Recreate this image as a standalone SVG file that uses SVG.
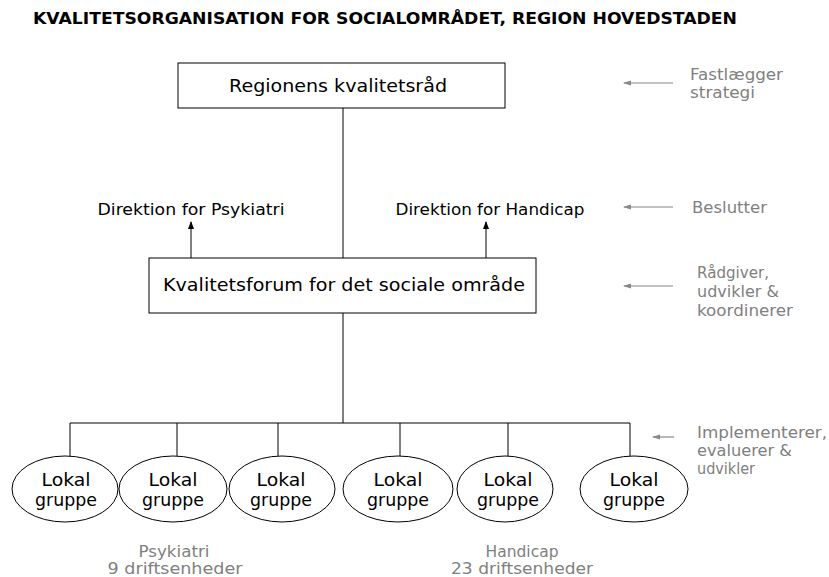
<svg xmlns="http://www.w3.org/2000/svg" width="829" height="577" viewBox="0 0 829 577">
<defs>
<marker id="ah" markerWidth="8" markerHeight="8" refX="7" refY="4" orient="auto" markerUnits="userSpaceOnUse"><path d="M0,1 L8,4 L0,7 Z" fill="#000"/></marker>
<marker id="ag" markerWidth="8" markerHeight="8" refX="7" refY="4" orient="auto" markerUnits="userSpaceOnUse"><path d="M0,1.5 L8,4 L0,6.5 Z" fill="#888"/></marker>
<style>
text{font-family:"Comic Sans MS","DejaVu Sans",sans-serif}
.t{font-size:15.5px;font-weight:bold;fill:#000}
.b{font-size:17px;fill:#000;text-anchor:middle}
.l{font-size:18px;fill:#000;text-anchor:middle}
.s{font-size:15px;fill:#000;text-anchor:middle}
.g{font-size:16px;fill:#808080}
.gc{font-size:15px;fill:#808080;text-anchor:middle}
.box{fill:#fff;stroke:#000;stroke-width:1}
.ln{stroke:#000;stroke-width:1;fill:none}
.gl{stroke:#888;stroke-width:1.2;fill:none}
</style>
</defs>
<rect width="829" height="577" fill="#fff"/>
<text class="t" x="33" y="24" textLength="704" lengthAdjust="spacingAndGlyphs">KVALITETSORGANISATION FOR SOCIALOMRÅDET, REGION HOVEDSTADEN</text>

<g id="connectors">
<line class="ln" x1="343" y1="108" x2="343" y2="258"/>
<line class="ln" x1="191" y1="258" x2="191" y2="222" marker-end="url(#ah)"/>
<line class="ln" x1="486" y1="258" x2="486" y2="222" marker-end="url(#ah)"/>
<line class="ln" x1="343" y1="313" x2="343" y2="423"/>
<line class="ln" x1="70" y1="423" x2="630" y2="423"/>
<line class="ln" x1="70" y1="423" x2="70" y2="456"/>
<line class="ln" x1="177" y1="423" x2="177" y2="456"/>
<line class="ln" x1="278" y1="423" x2="278" y2="456"/>
<line class="ln" x1="400" y1="423" x2="400" y2="456"/>
<line class="ln" x1="508" y1="423" x2="508" y2="456"/>
<line class="ln" x1="630" y1="423" x2="630" y2="456"/>
<line class="gl" x1="673" y1="83" x2="624" y2="83" marker-end="url(#ag)"/>
<line class="gl" x1="673" y1="207" x2="624" y2="207" marker-end="url(#ag)"/>
<line class="gl" x1="673" y1="286" x2="624" y2="286" marker-end="url(#ag)"/>
<line class="gl" x1="674" y1="437" x2="653" y2="437" marker-end="url(#ag)"/>
</g>

<g id="raad">
<rect class="box" x="178" y="63" width="327" height="45"/>
<text class="b" x="338" y="92" textLength="218" lengthAdjust="spacingAndGlyphs">Regionens kvalitetsråd</text>
</g>
<g id="dir-psyk"><text class="s" x="191" y="215" textLength="187" lengthAdjust="spacingAndGlyphs">Direktion for Psykiatri</text></g>
<g id="dir-hand"><text class="s" x="490" y="215" textLength="189" lengthAdjust="spacingAndGlyphs">Direktion for Handicap</text></g>
<g id="forum">
<rect class="box" x="149" y="258" width="387" height="55"/>
<text class="b" x="344" y="291" style="font-size:18px" textLength="362" lengthAdjust="spacingAndGlyphs">Kvalitetsforum for det sociale område</text>
</g>

<g id="lg1"><ellipse class="box" cx="65" cy="489" rx="53" ry="33"/><text class="l" x="66" y="486" textLength="49" lengthAdjust="spacingAndGlyphs">Lokal</text><text class="l" x="66" y="506" textLength="62" lengthAdjust="spacingAndGlyphs">gruppe</text></g>
<g id="lg2"><ellipse class="box" cx="173" cy="489" rx="54" ry="33"/><text class="l" x="173" y="486" textLength="49" lengthAdjust="spacingAndGlyphs">Lokal</text><text class="l" x="173" y="506" textLength="62" lengthAdjust="spacingAndGlyphs">gruppe</text></g>
<g id="lg3"><ellipse class="box" cx="282" cy="489" rx="53" ry="33"/><text class="l" x="281" y="486" textLength="49" lengthAdjust="spacingAndGlyphs">Lokal</text><text class="l" x="281" y="506" textLength="62" lengthAdjust="spacingAndGlyphs">gruppe</text></g>
<g id="lg4"><ellipse class="box" cx="398" cy="489" rx="55" ry="33"/><text class="l" x="398" y="486" textLength="49" lengthAdjust="spacingAndGlyphs">Lokal</text><text class="l" x="398" y="506" textLength="62" lengthAdjust="spacingAndGlyphs">gruppe</text></g>
<g id="lg5"><ellipse class="box" cx="505" cy="489" rx="48" ry="33"/><text class="l" x="508" y="486" textLength="49" lengthAdjust="spacingAndGlyphs">Lokal</text><text class="l" x="508" y="506" textLength="62" lengthAdjust="spacingAndGlyphs">gruppe</text></g>
<g id="lg6"><ellipse class="box" cx="634" cy="489" rx="54" ry="33"/><text class="l" x="634" y="486" textLength="49" lengthAdjust="spacingAndGlyphs">Lokal</text><text class="l" x="634" y="506" textLength="62" lengthAdjust="spacingAndGlyphs">gruppe</text></g>

<g id="psyk-label"><text class="gc" x="174" y="557" textLength="71" lengthAdjust="spacingAndGlyphs">Psykiatri</text><text class="gc" x="175" y="574" textLength="135" lengthAdjust="spacingAndGlyphs">9 driftsenheder</text></g>
<g id="hand-label"><text class="gc" x="522" y="557" textLength="73" lengthAdjust="spacingAndGlyphs">Handicap</text><text class="gc" x="522" y="574" textLength="142" lengthAdjust="spacingAndGlyphs">23 driftsenheder</text></g>

<g id="note1"><text class="g" x="690" y="80" textLength="93" lengthAdjust="spacingAndGlyphs">Fastlægger</text><text class="g" x="690" y="98" textLength="65" lengthAdjust="spacingAndGlyphs">strategi</text></g>
<g id="note2"><text class="g" x="692" y="213" textLength="75" lengthAdjust="spacingAndGlyphs">Beslutter</text></g>
<g id="note3"><text class="g" x="697" y="278" textLength="72" lengthAdjust="spacingAndGlyphs">Rådgiver,</text><text class="g" x="697" y="297" textLength="82" lengthAdjust="spacingAndGlyphs">udvikler &amp;</text><text class="g" x="697" y="316" textLength="96" lengthAdjust="spacingAndGlyphs">koordinerer</text></g>
<g id="note4"><text class="g" x="697" y="438" textLength="130" lengthAdjust="spacingAndGlyphs">Implementerer,</text><text class="g" x="697" y="456" textLength="95" lengthAdjust="spacingAndGlyphs">evaluerer &amp;</text><text class="g" x="697" y="474" textLength="58" lengthAdjust="spacingAndGlyphs">udvikler</text></g>
</svg>
